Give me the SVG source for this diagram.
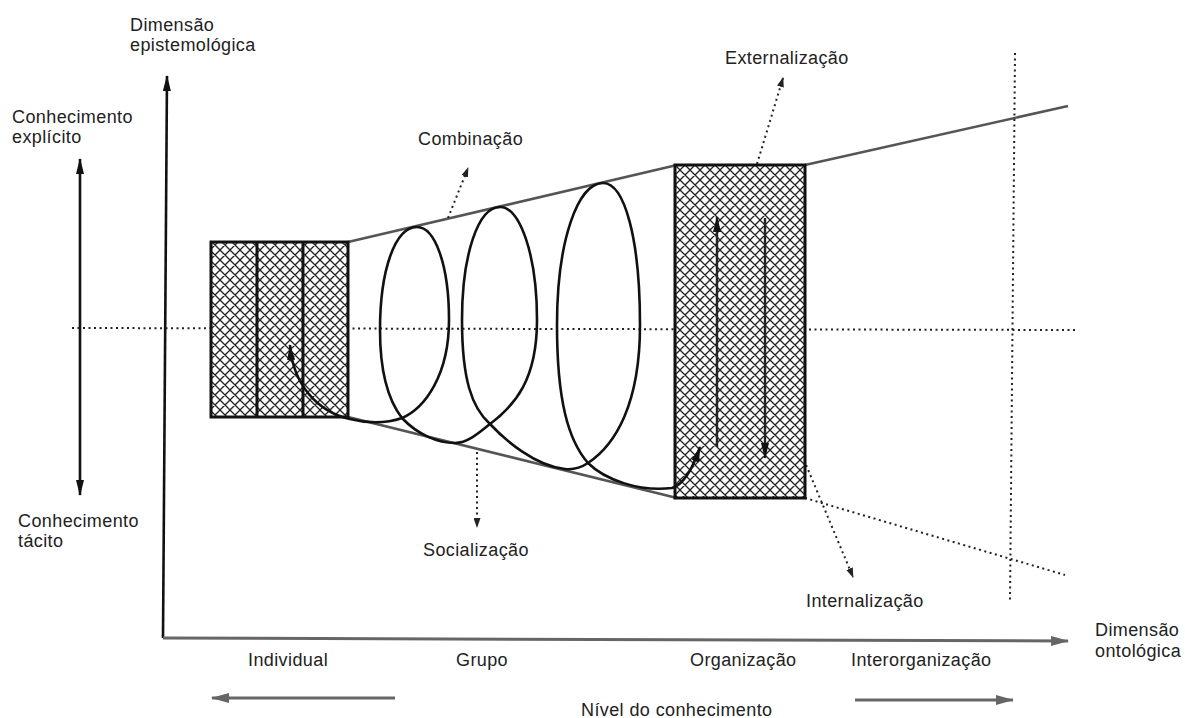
<svg xmlns="http://www.w3.org/2000/svg" width="1185" height="718" viewBox="0 0 1185 718">
<defs>
<style>
text{font-family:"Liberation Sans",Arial,Helvetica,sans-serif;font-size:18px;fill:#222;letter-spacing:0.4px}
.axis{fill:none;stroke:#111;stroke-width:2.6}
.gaxis{fill:none;stroke:#666;stroke-width:3}
.cone{fill:none;stroke:#555;stroke-width:2.6}
.dot{fill:none;stroke:#222;stroke-width:2;stroke-dasharray:2 3.5}
.box{fill:url(#hatch);stroke:#111;stroke-width:3}
.div{stroke:#111;stroke-width:3}
.spiral{fill:none;stroke:#111;stroke-width:2.6}
.inarrow{fill:none;stroke:#222;stroke-width:2.4}
</style>
<pattern id="hatch" patternUnits="userSpaceOnUse" width="10" height="10">
<rect width="10" height="10" fill="#fff"/>
<path d="M-1,-1 L11,11 M9,-1 L11,1 M-1,9 L1,11 M11,-1 L-1,11 M1,-1 L-1,1 M11,9 L9,11" stroke="#222" stroke-width="1.3"/>
</pattern>
<marker id="ah" viewBox="0 0 16 8" refX="15" refY="4" markerWidth="16" markerHeight="8" markerUnits="userSpaceOnUse" orient="auto-start-reverse">
<path d="M0,0 L16,4 L0,8 z" fill="#111"/>
</marker>
<marker id="gah" viewBox="0 0 18 10" refX="17" refY="5" markerWidth="18" markerHeight="10" markerUnits="userSpaceOnUse" orient="auto-start-reverse">
<path d="M0,0 L18,5 L0,10 z" fill="#666"/>
</marker>
<marker id="dah" viewBox="0 0 10 7" refX="9" refY="3.5" markerWidth="10" markerHeight="7" markerUnits="userSpaceOnUse" orient="auto">
<path d="M0,0 L10,3.5 L0,7 z" fill="#222"/>
</marker>
</defs>
<rect width="1185" height="718" fill="#fff"/>

<g id="connectors">
<path class="axis" d="M163,638 L167,76" marker-end="url(#ah)"/>
<path class="gaxis" d="M163,638 L1068,641" marker-end="url(#gah)"/>
<path class="axis" d="M80,159 L80,495" marker-start="url(#ah)" marker-end="url(#ah)"/>
<path class="dot" d="M72,328 L1075,330"/>
<path class="cone" d="M348,242 L677,165"/>
<path class="cone" d="M348,417 L677,498"/>
<path class="cone" d="M805,165 L1068,106"/>
<path class="dot" d="M805,498 L1065,575"/>
<path class="dot" d="M1015,53 L1010,602"/>
<path class="gaxis" d="M395,698 L212,698" marker-end="url(#gah)"/>
<path class="gaxis" d="M855,700 L1013,700" marker-end="url(#gah)"/>
<path class="dot" d="M448,218 L468,168" marker-end="url(#dah)"/>
<path class="dot" d="M757,164 L783,78" marker-end="url(#dah)"/>
<path class="dot" d="M477,452 L477,527" marker-end="url(#dah)"/>
<path class="dot" d="M804,460 L853,577" marker-end="url(#dah)"/>
</g>

<g id="node-individual">
<rect class="box" x="211" y="242" width="137" height="175"/>
<line class="div" x1="257" y1="242" x2="257" y2="417"/>
<line class="div" x1="303" y1="242" x2="303" y2="417"/>
</g>

<g id="node-organizacao">
<rect class="box" x="675" y="165" width="130" height="333"/>
<path class="inarrow" d="M717,447 L717,217" marker-end="url(#ah)"/>
<path class="inarrow" d="M765,218 L765,458" marker-end="url(#ah)"/>
</g>

<g id="spiral">
<path class="spiral" marker-start="url(#ah)" marker-end="url(#ah)" d="M290,345 C293,385 318,412 350,419 C365,423 385,424 402,418 C425,408 449,375 449,320 C449,265 435,227 417,227 C395,227 380,270 380,330 C380,370 388,400 402,418 C418,435 438,443 455,443 C468,443 480,432 490,424 C515,405 537,380 537,320 C537,255 520,207 500,207 C478,207 462,255 462,320 C462,380 472,408 490,424 C505,440 535,466 565,469 C575,470 582,467 588,463 C615,445 640,405 640,325 C640,240 625,183 603,183 C578,183 557,240 557,325 C557,400 568,440 588,463 C605,480 640,492 672,488 C685,484 694,465 700,447"/>
</g>

<g id="labels">
<text x="130" y="31">Dimensão</text>
<text x="130" y="51">epistemológica</text>
<text x="12" y="123">Conhecimento</text>
<text x="12" y="143">explícito</text>
<text x="18" y="527">Conhecimento</text>
<text x="18" y="547">tácito</text>
<text x="418" y="145">Combinação</text>
<text x="725" y="64">Externalização</text>
<text x="423" y="556">Socialização</text>
<text x="806" y="607">Internalização</text>
<text x="1095" y="636">Dimensão</text>
<text x="1095" y="657">ontológica</text>
<text x="248" y="666">Individual</text>
<text x="456" y="666">Grupo</text>
<text x="690" y="666">Organização</text>
<text x="851" y="666">Interorganização</text>
<text x="581" y="716">Nível do conhecimento</text>
</g>
</svg>
